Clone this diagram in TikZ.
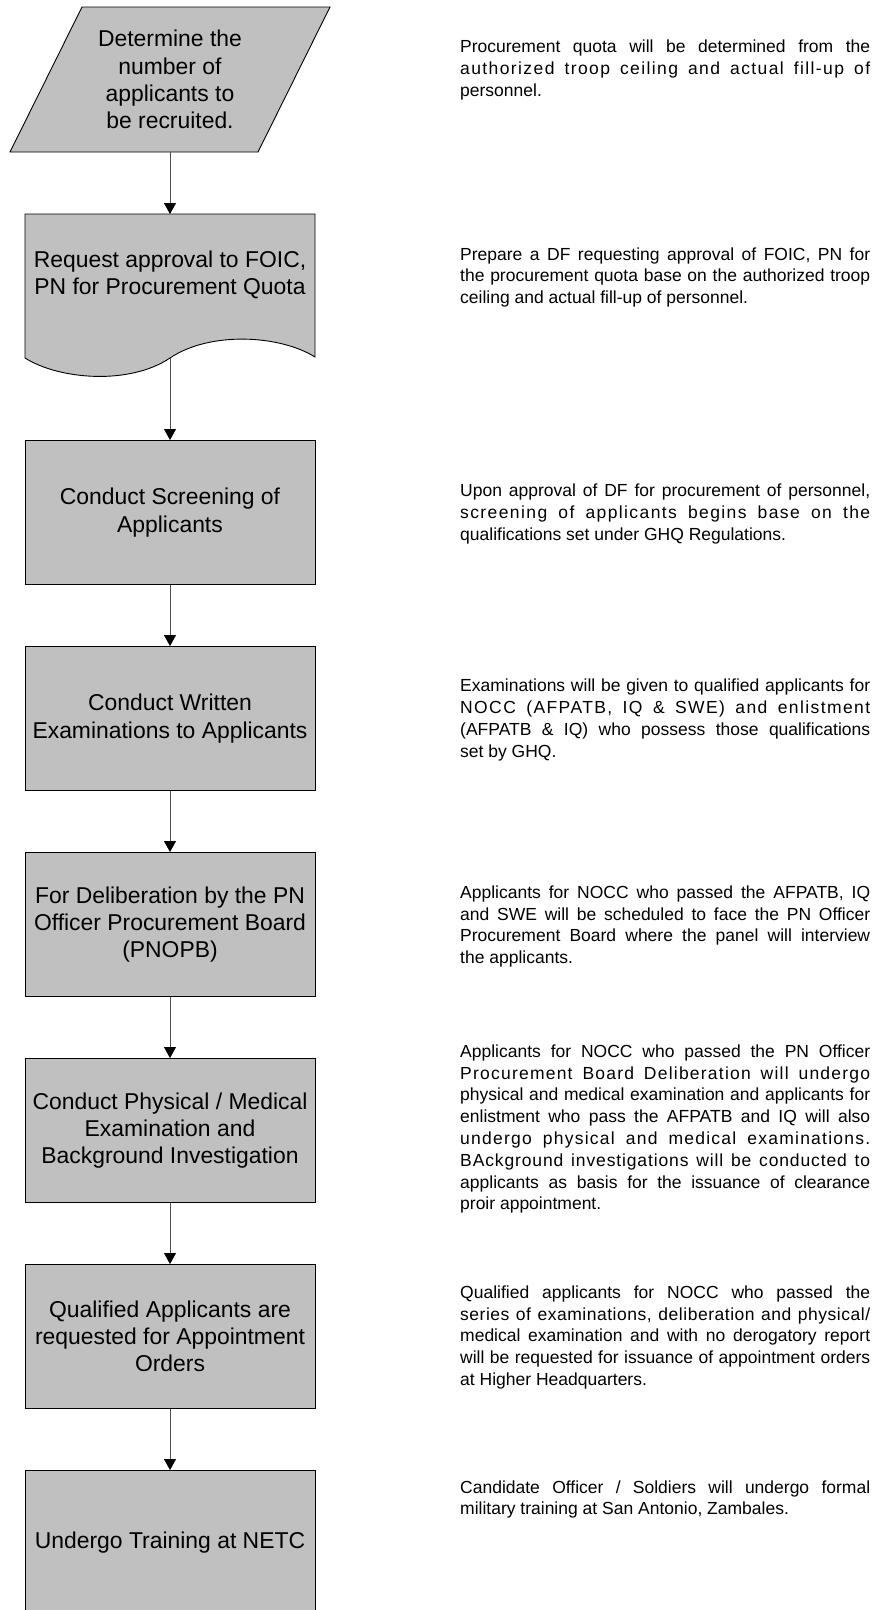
\documentclass[tikz,border=0pt]{standalone}
\usepackage{fontspec}
\setmainfont{Liberation Sans}
\usetikzlibrary{arrows.meta}
\definecolor{procgray}{HTML}{C0C0C0}
\definecolor{flowgray}{HTML}{505050}
\newcommand\boxfont{\fontsize{22.9}{27.3}\selectfont}
\newcommand\descfont{\fontsize{17.5}{21.8}\selectfont}
\newlength\dw
\setlength\dw{410pt}
% a fully justified line of a description
\newcommand\jl[1]{\makebox[\dw][s]{\spaceskip=0pt\xspaceskip=0pt #1}\\}
% a justified line that is also letter spaced
\newcommand\jls[2]{\makebox[\dw][s]{\spaceskip=0pt\xspaceskip=0pt\addfontfeature{LetterSpace=#1}#2}\\}
\begin{document}
\begin{tikzpicture}[x=1pt,y=-1pt,
  shapeline/.style={draw=black,line width=0.9pt,fill=procgray},
  stepbox/.style={shapeline,minimum width=290pt,minimum height=144pt,inner sep=0pt,
    align=center,font=\boxfont,anchor=north},
  steptext/.style={inner sep=0pt,align=center,font=\boxfont},
  desc/.style={anchor=base west,inner sep=0pt,text width=410pt,align=justify,font=\descfont},
  flow/.style={draw=flowgray,line width=0.9pt,
    -{Triangle[length=11pt,width=12pt,fill=black,color=black]}}
]
\useasboundingbox (0,0) rectangle (875,1610);

% input step (parallelogram)
\coordinate (dtl) at (82,7);
\coordinate (dtr) at (330,7);
\coordinate (dbr) at (258,152);
\coordinate (dbl) at (10,152);
\path[shapeline] (dtl) -- (dtr) -- (dbr) -- (dbl) -- cycle;
\node[steptext] (det) at (170,79.5) {Determine the\\number of\\applicants to\\be recruited.};
\coordinate (detb) at (170,152);

% document step
\coordinate (docb) at (170,358);
\path[shapeline] (25,214) -- (315,214) -- (315,357)
  .. controls (280,335) and (210,331) .. (docb)
  .. controls (130,385) and (60,380) .. (25,358) -- cycle;
\coordinate (doct) at (170,214);
\node[steptext] (req) at (170,275) {Request approval to FOIC,\\PN for Procurement Quota};

% process steps
\node[stepbox] (scr) at (170,440)  {Conduct Screening of\\Applicants};
\node[stepbox] (wri) at (170,646)  {Conduct Written\\Examinations to Applicants};
\node[stepbox] (del) at (170,852)  {For Deliberation by the PN\\Officer Procurement Board\\(PNOPB)};
\node[stepbox] (phy) at (170,1058) {Conduct Physical / Medical\\Examination and\\Background Investigation};
\node[stepbox] (qua) at (170,1264) {Qualified Applicants are\\requested for Appointment\\Orders};
\node[stepbox] (trn) at (170,1470) {Undergo Training at NETC};

% connectors
\draw[flow] (detb) -- (doct);
\draw[flow] (docb) -- (scr.north);
\draw[flow] (scr.south) -- (wri.north);
\draw[flow] (wri.south) -- (del.north);
\draw[flow] (del.south) -- (phy.north);
\draw[flow] (phy.south) -- (qua.north);
\draw[flow] (qua.south) -- (trn.north);

% descriptions
\node[desc] (t1) at (460,52.5) {\jl{Procurement quota will be determined from the}\jls{8}{authorized troop ceiling and actual fill-up of}personnel.};
\node[desc] (t2) at (460,260) {\jl{Prepare a DF requesting approval of FOIC, PN for}\jl{the procurement quota base on the authorized troop}ceiling and actual fill-up of personnel.};
\node[desc] (t3) at (460,496.7) {\jl{Upon approval of DF for procurement of personnel,}\jls{8}{screening of applicants begins base on the}qualifications set under GHQ Regulations.};
\node[desc] (t4) at (460,691.7) {\jl{Examinations will be given to qualified applicants for}\jls{8}{NOCC (AFPATB, IQ \& SWE) and enlistment}\jl{(AFPATB \& IQ) who possess those qualifications}set by GHQ.};
\node[desc] (t5) at (460,898.3) {\jl{Applicants for NOCC who passed the AFPATB, IQ}\jl{and SWE will be scheduled to face the PN Officer}\jl{Procurement Board where the panel will interview}the applicants.};
\node[desc] (t6) at (460,1057.3) {\jl{Applicants for NOCC who passed the PN Officer}\jls{7}{Procurement Board Deliberation will undergo}\jl{physical and medical examination and applicants for}\jl{enlistment who pass the AFPATB and IQ will also}\jls{7}{undergo physical and medical examinations.}\jls{5}{BAckground investigations will be conducted to}\jl{applicants as basis for the issuance of clearance}proir appointment.};
\node[desc] (t7) at (460,1298.3) {\jl{Qualified applicants for NOCC who passed the}\jls{3}{series of examinations, deliberation and physical/}\jl{medical examination and with no derogatory report}\jl{will be requested for issuance of appointment orders}at Higher Headquarters.};
\node[desc] (t8) at (460,1493) {\jl{Candidate Officer / Soldiers will undergo formal}military training at San Antonio, Zambales.};
\end{tikzpicture}
\end{document}
